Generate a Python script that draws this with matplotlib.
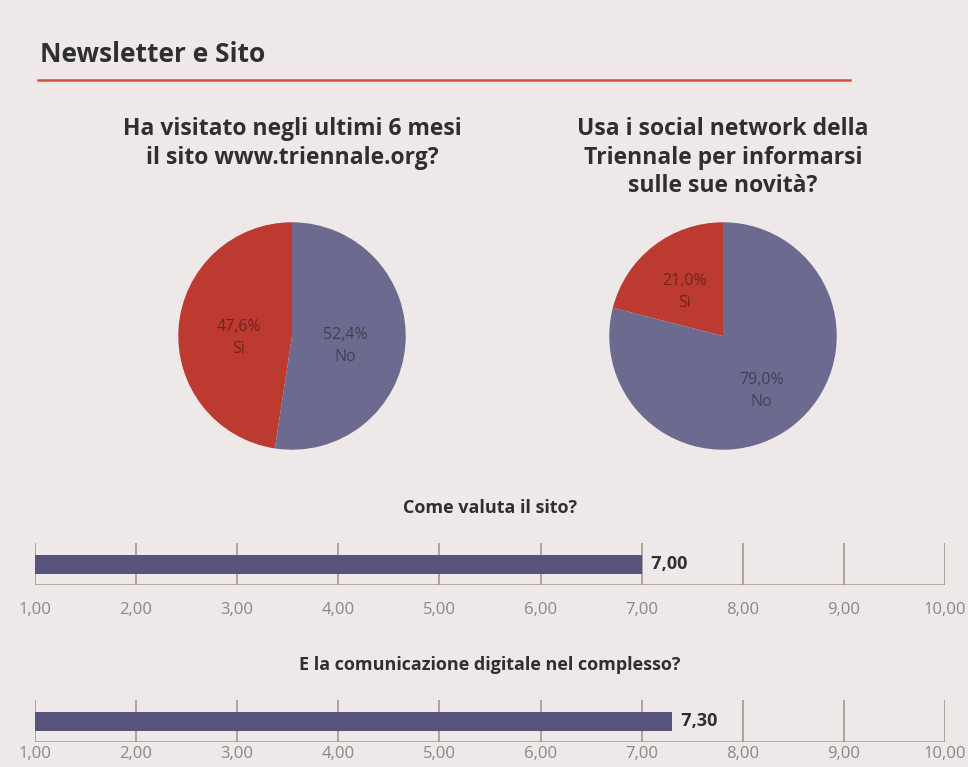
import numpy as np
import matplotlib.pyplot as plt

# pie data
pie_titles = ["Ha visitato negli ultimi 6 mesi\nil sito www.triennale.org?",
              "Usa i social network della\nTriennale per informarsi\nsulle sue novità?"]
pie_names = ["Sì", "No"]
pie1_vals = [47.6, 52.4]
pie2_vals = [21.0, 79.0]

# bar data
bar_titles = ["Come valuta il sito?", "E la comunicazione digitale nel complesso?"]
bar_vals = [7.00, 7.30]
scale_ticks = [1, 2, 3, 4, 5, 6, 7, 8, 9, 10]

BG = "#eee8e9"
RED = "#bd3a31"
BLUE = "#6c6b8f"
BAR = "#57537b"
TXT = "#2f2f2f"
GRID = "#a3968f"
FONT = ["Open Sans", "DejaVu Sans"]

W, H = 968, 767
plt.rcParams["font.family"] = FONT
fig = plt.figure(figsize=(W / 100, H / 100), dpi=100, facecolor=BG)


def box(x0, y0, x1, y1):
    # pixel box (top-left origin) -> figure fraction rect
    return [x0 / W, 1 - y1 / H, (x1 - x0) / W, (y1 - y0) / H]


fig.text(40 / W, 1 - 54 / H, "Newsletter e Sito", fontsize=19, fontweight="bold",
         color=TXT, va="center", ha="left")
fig.add_artist(plt.Line2D([38 / W, 850 / W], [1 - 80 / H, 1 - 80 / H], color="#d6503f", lw=1.8))

# pies
for cx, vals, title, ld in [(292, pie1_vals, pie_titles[0], 0.47),
                            (723, pie2_vals, pie_titles[1], 0.55)]:
    r = 116
    ax = fig.add_axes(box(cx - r, 336 - r, cx + r, 336 + r))
    wedges, _ = ax.pie(vals, colors=[RED, BLUE], startangle=90, counterclock=True,
                       wedgeprops=dict(linewidth=0))
    for w, v, name in zip(wedges, vals, pie_names):
        ang = np.deg2rad((w.theta1 + w.theta2) / 2)
        lab = f"{v:.1f}%".replace(".", ",") + "\n" + name
        ax.text(ld * np.cos(ang), ld * np.sin(ang) - 0.05, lab, ha="center", va="center",
                fontsize=11.5, color="#000000", alpha=0.4, linespacing=1.5)
    ax.set_xlim(-1.02, 1.02); ax.set_ylim(-1.02, 1.02)
    ax.set_aspect("equal"); ax.axis("off")
    fig.text(cx / W, 1 - 117 / H, title, ha="center", va="top", fontsize=16.5,
             fontweight="bold", color=TXT, linespacing=1.25)

# bars
for i, (val, title) in enumerate(zip(bar_vals, bar_titles)):
    off = 157 * i
    fig.text(490 / W, 1 - (508 + off) / H, title, ha="center", va="center", fontsize=13,
             fontweight="bold", color=TXT)
    ax = fig.add_axes(box(35, 543 + off, 945, 585 + off))
    ax.set_facecolor("none")
    ax.set_xlim(scale_ticks[0], scale_ticks[-1]); ax.set_ylim(0, 1)
    ax.vlines(scale_ticks, 0, 1, color=GRID, lw=1.2, zorder=1)
    ax.axhline(0, color=GRID, lw=1.8, zorder=1)
    ax.barh(0.49, val - scale_ticks[0], left=scale_ticks[0], height=0.45, color=BAR, zorder=2)
    ax.text(val, 0.49, "  " + f"{val:.2f}".replace(".", ","), ha="left", va="center",
            fontsize=13, fontweight="bold", color=TXT)
    for s in ax.spines.values():
        s.set_visible(False)
    ax.set_yticks([])
    ax.set_xticks(scale_ticks, labels=[f"{t:.2f}".replace(".", ",") for t in scale_ticks])
    # last row sits at the page edge; pull it up a little so it stays inside
    ax.tick_params(axis="x", length=0, pad=12 if i == 0 else 3, labelsize=12,
                   labelcolor="#8b8785")

fig.savefig("out.png", dpi=100, facecolor=BG)
